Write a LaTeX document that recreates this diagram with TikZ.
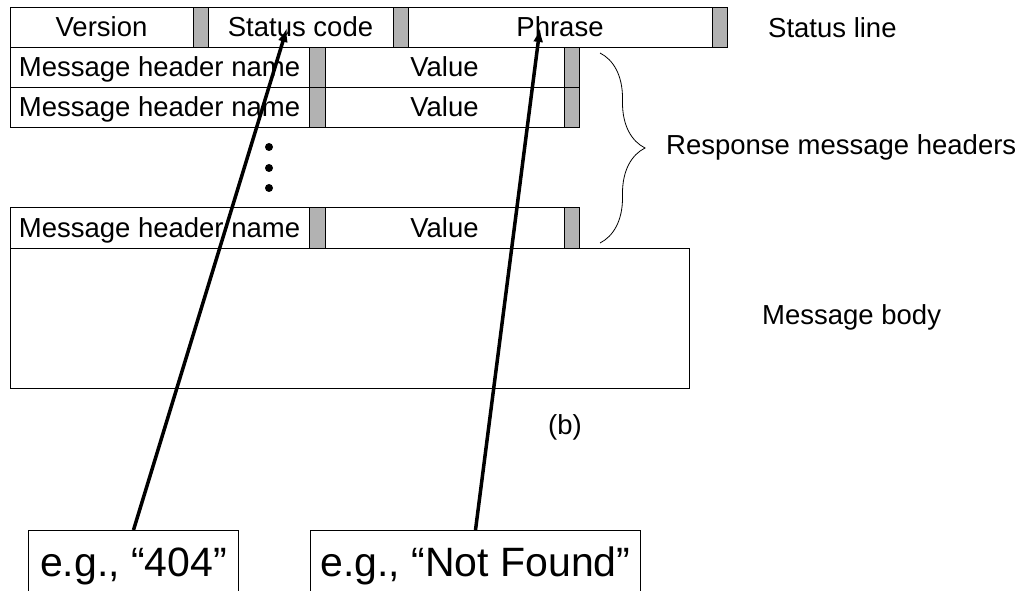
\documentclass[tikz,border=0pt]{standalone}
\usepackage{fontspec}
\setmainfont{Liberation Sans}
\usetikzlibrary{positioning,arrows.meta,decorations.pathreplacing}

\tikzset{
  cell/.style={draw, line width=1pt, minimum height=40pt, inner sep=0pt,
    outer sep=0pt, text height=21pt, text depth=3pt,
    font=\fontsize{27.5}{30}\selectfont},
  gbar/.style={cell, fill=gray!60, minimum width=15pt},
  lbl/.style={inner sep=0pt, font=\fontsize{27.5}{30}\selectfont},
  exbox/.style={draw, line width=1pt, minimum height=66pt, inner sep=0pt,
    text height=31pt, text depth=5pt, font=\fontsize{41}{44}\selectfont},
  hdot/.style={circle, fill, inner sep=0pt, minimum size=8pt},
  pointer/.style={-{Latex[length=14pt,width=10pt]}, line width=3.5pt}
}

\begin{document}
\begin{tikzpicture}[x=1pt,y=-1pt]

  \useasboundingbox (0,0) rectangle (1029,591);

  % Status line

  \node[cell,minimum width=183pt,anchor=north west] (st_ver) at (10,8) {Version};
  \node[gbar,right=0pt of st_ver] (st_bar1) {};
  \node[cell,minimum width=185pt,right=0pt of st_bar1] (st_code) {Status code};
  \node[gbar,right=0pt of st_code] (st_bar2) {};
  \node[cell,minimum width=304pt,right=0pt of st_bar2] (st_phrase) {Phrase};
  \node[gbar,right=0pt of st_phrase] (st_bar3) {};

  % Header lines

  \node[cell,minimum width=299pt,anchor=north west] (h1_name) at (st_ver.south west) {Message header name};
  \node[gbar,minimum width=16pt,right=0pt of h1_name] (h1_bar1) {};
  \node[cell,minimum width=239pt,right=0pt of h1_bar1] (h1_val) {Value};
  \node[gbar,right=0pt of h1_val] (h1_bar2) {};

  \node[cell,minimum width=299pt,anchor=north west] (h2_name) at (h1_name.south west) {Message header name};
  \node[gbar,minimum width=16pt,right=0pt of h2_name] (h2_bar1) {};
  \node[cell,minimum width=239pt,right=0pt of h2_bar1] (h2_val) {Value};
  \node[gbar,right=0pt of h2_val] (h2_bar2) {};

  \node[hdot] (dot1) at (269,147) {};
  \node[hdot] (dot2) at (269,168) {};
  \node[hdot] (dot3) at (269,188) {};

  \node[cell,minimum width=299pt,anchor=north west] (h3_name) at (10,208) {Message header name};
  \node[gbar,minimum width=16pt,right=0pt of h3_name] (h3_bar1) {};
  \node[cell,minimum width=239pt,right=0pt of h3_bar1] (h3_val) {Value};
  \node[gbar,right=0pt of h3_val] (h3_bar2) {};

  % Body

  \node[cell,minimum width=679pt,minimum height=140pt,anchor=north west] (body) at (h3_name.south west) {};

  % Labels

  \node[lbl,anchor=west] (status_lbl) at (768,28) {Status line};
  \node[lbl,anchor=west] (headers_lbl) at (666,147) {Response message headers};
  \node[lbl,anchor=west] (body_lbl) at (762,317) {Message body};
  \node[lbl] (fig_lbl) at (565,427) {(b)};

  \coordinate (brace_top) at (600,53);
  \coordinate (brace_bot) at (600,243);
  \draw[decorate,decoration={brace,amplitude=45pt},line width=0.8pt] (brace_top) -- (brace_bot);

  % Examples

  \node[exbox,minimum width=210pt,anchor=north west] (ex_code) at (28,530) {e.g., “404”};
  \node[exbox,minimum width=330pt,anchor=north west] (ex_phrase) at (310,530) {e.g., “Not Found”};

  \coordinate (code_tip) at (287,28);
  \coordinate (phrase_tip) at (540,28);

  \draw[pointer] (ex_code.north) -- (code_tip);
  \draw[pointer] (ex_phrase.north) -- (phrase_tip);

\end{tikzpicture}
\end{document}
